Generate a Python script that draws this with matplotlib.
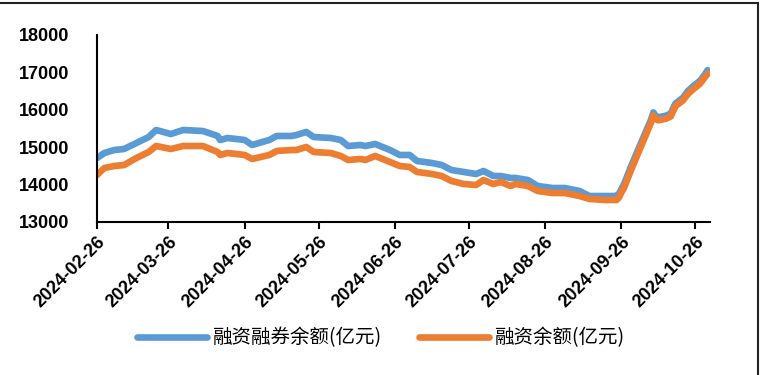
import matplotlib
matplotlib.use("Agg")
import matplotlib.pyplot as plt
import matplotlib.dates as mdates
from matplotlib.patches import Rectangle
import pandas as pd

dates = ["2024-02-26", "2024-02-29", "2024-03-04", "2024-03-08", "2024-03-13", "2024-03-18",
         "2024-03-21", "2024-03-27", "2024-04-01", "2024-04-09", "2024-04-15", "2024-04-16",
         "2024-04-19", "2024-04-26", "2024-04-29", "2024-05-06", "2024-05-09", "2024-05-15",
         "2024-05-17", "2024-05-21", "2024-05-24", "2024-05-31", "2024-06-04", "2024-06-07",
         "2024-06-12", "2024-06-14", "2024-06-18", "2024-06-24", "2024-06-28", "2024-07-02",
         "2024-07-05", "2024-07-11", "2024-07-15", "2024-07-19", "2024-07-24", "2024-07-29",
         "2024-08-01", "2024-08-05", "2024-08-08", "2024-08-12", "2024-08-14", "2024-08-19",
         "2024-08-23", "2024-08-29", "2024-09-03", "2024-09-09", "2024-09-13", "2024-09-20",
         "2024-09-24", "2024-09-25", "2024-09-26", "2024-09-27", "2024-09-30", "2024-10-08",
         "2024-10-09", "2024-10-10", "2024-10-11", "2024-10-14", "2024-10-16", "2024-10-18",
         "2024-10-21", "2024-10-23", "2024-10-25", "2024-10-28", "2024-10-30", "2024-10-31"]

total_balance = [14711, 14845, 14925, 14952, 15112, 15273,
                 15460, 15353, 15460, 15433, 15300, 15193,
                 15246, 15193, 15059, 15193, 15300, 15300,
                 15326, 15407, 15273, 15246, 15193, 15032,
                 15059, 15032, 15086, 14925, 14792, 14792,
                 14631, 14578, 14524, 14390, 14337, 14284,
                 14364, 14230, 14230, 14177, 14177, 14123,
                 13963, 13909, 13909, 13829, 13695, 13695,
                 13695, 13750, 13880, 14000, 14500, 15730,
                 15930, 15830, 15800, 15840, 15900, 16170,
                 16320, 16500, 16620, 16780, 16950, 17060]

financing_balance = [14257, 14444, 14497, 14524, 14711, 14872,
                     15032, 14952, 15032, 15032, 14872, 14792,
                     14845, 14792, 14685, 14792, 14899, 14925,
                     14925, 15005, 14872, 14845, 14765, 14658,
                     14685, 14658, 14765, 14604, 14497, 14471,
                     14337, 14284, 14230, 14096, 14016, 13989,
                     14123, 14016, 14070, 13963, 14016, 13963,
                     13829, 13775, 13775, 13695, 13615, 13588,
                     13588, 13650, 13790, 13900, 14400, 15650,
                     15850, 15750, 15720, 15760, 15820, 16100,
                     16250, 16420, 16540, 16700, 16880, 16960]

series_labels = ["融资融券余额(亿元)", "融资余额(亿元)"]
tick_dates = ["2024-02-26", "2024-03-26", "2024-04-26", "2024-05-26", "2024-06-26",
              "2024-07-26", "2024-08-26", "2024-09-26", "2024-10-26"]
y_ticks = [13000, 14000, 15000, 16000, 17000, 18000]

x = pd.to_datetime(dates)
fig = plt.figure(figsize=(7.62, 3.75), dpi=100)
ax = fig.add_axes([97 / 762, 1 - 222 / 375, (710 - 97) / 762, (222 - 35) / 375])

l1, = ax.plot(x, total_balance, color="#5B9BD5", lw=4.8, solid_joinstyle="round",
              solid_capstyle="round", label=series_labels[0])
l2, = ax.plot(x, financing_balance, color="#ED7D31", lw=4.8, solid_joinstyle="round",
              solid_capstyle="round", label=series_labels[1])

ax.set_xlim(pd.Timestamp("2024-02-26"), pd.Timestamp("2024-11-01"))
ax.set_ylim(13000, 18000)
ax.set_yticks(y_ticks)
ax.set_xticks(pd.to_datetime(tick_dates))
ax.xaxis.set_major_formatter(mdates.DateFormatter("%Y-%m-%d"))

for s in ["top", "right"]:
    ax.spines[s].set_visible(False)
for s in ["left", "bottom"]:
    ax.spines[s].set_linewidth(1.5)
    ax.spines[s].set_color("black")

ax.tick_params(axis="y", length=0, pad=20)
ax.tick_params(axis="x", length=5, width=1.5, direction="out", pad=3)
for lab in ax.get_yticklabels():
    lab.set_fontfamily("Liberation Sans")
    lab.set_fontweight("bold")
    lab.set_fontsize(13)
for lab in ax.get_xticklabels():
    lab.set_fontfamily("Liberation Sans")
    lab.set_fontweight("bold")
    lab.set_fontsize(13)
    lab.set_rotation(45)
    lab.set_ha("right")
    lab.set_va("top")
    lab.set_rotation_mode("anchor")

leg = fig.legend(handles=[l1, l2], loc="center", bbox_to_anchor=(0.5, 1 - 338 / 375),
                 ncol=2, frameon=False, handlelength=3.6, handletextpad=0.3,
                 columnspacing=1.9, prop={"family": ["Noto Sans CJK SC", "DejaVu Sans"], "size": 14})

fig.patches.append(Rectangle((-0.01, -0.01), 758 / 762 + 0.01, 1 - 2.5 / 375 + 0.01,
                             transform=fig.transFigure, fill=False, edgecolor="#222222",
                             lw=1.5, zorder=10))

fig.savefig("out.png", dpi=100)
